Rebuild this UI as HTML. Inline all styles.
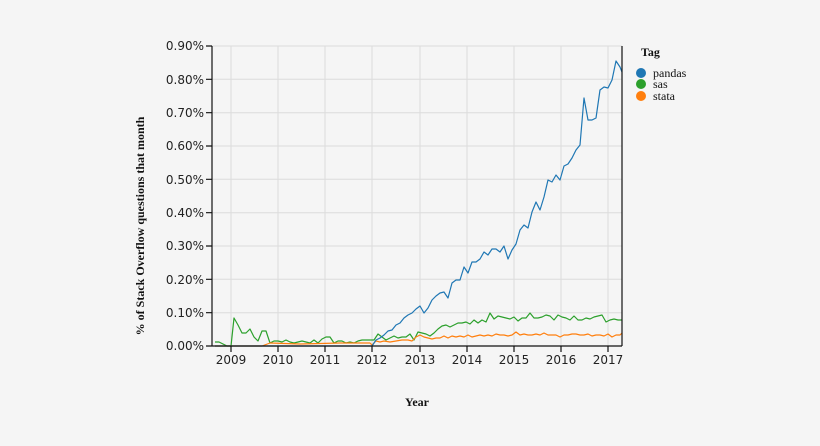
<!DOCTYPE html>
<html><head><meta charset="utf-8"><style>
html,body{margin:0;padding:0;background:#f5f5f5;}
svg{display:block;}
.t{font-family:"DejaVu Sans","Liberation Sans",sans-serif;font-size:12px;fill:#222;}
.s{font-family:"Liberation Serif",serif;fill:#111;}
</style></head><body>
<svg width="820" height="446" xmlns="http://www.w3.org/2000/svg">
<rect width="820" height="446" fill="#f5f5f5"/>
<g stroke="#dcdcdc" stroke-width="1">
<line x1="212" x2="622" y1="46" y2="46"/><line x1="212" x2="622" y1="79.3" y2="79.3"/><line x1="212" x2="622" y1="112.7" y2="112.7"/><line x1="212" x2="622" y1="146" y2="146"/><line x1="212" x2="622" y1="179.3" y2="179.3"/><line x1="212" x2="622" y1="212.7" y2="212.7"/><line x1="212" x2="622" y1="246" y2="246"/><line x1="212" x2="622" y1="279.3" y2="279.3"/><line x1="212" x2="622" y1="312.7" y2="312.7"/>
<line x1="231" x2="231" y1="46" y2="346"/><line x1="278" x2="278" y1="46" y2="346"/><line x1="325" x2="325" y1="46" y2="346"/><line x1="372" x2="372" y1="46" y2="346"/><line x1="420" x2="420" y1="46" y2="346"/><line x1="467" x2="467" y1="46" y2="346"/><line x1="514" x2="514" y1="46" y2="346"/><line x1="561" x2="561" y1="46" y2="346"/><line x1="608" x2="608" y1="46" y2="346"/>
</g>
<g fill="none" stroke-width="1.2" stroke-linejoin="round">
<polyline stroke="#2ca02c" points="215,342 219,342 223,344 227,346 231,346 234,318 238,325 242,333 246,333 250,329 254,337 258,341 262,331 266,331 270,343 274,341 278,341 282,342 286,340 290,342 294,343 298,342 302,341 306,342 310,343 314,340 318,343 322,339 326,337 330,337 334,343 338,341 342,341 346,343 350,342 354,343 358,341 362,340 366,340 370,340 374,340 378,334 382,337 386,340 390,338 394,336 398,338 402,337 406,337 410,334 414,340 418,332 422,333 426,334 430,336 434,333 438,329 442,326 446,325 450,327 454,325 458,323 462,323 466,322 470,324 474,320 478,323 482,320 486,322 490,313 494,319 498,316 502,317 506,318 510,319 514,317 518,321 522,318 526,318 530,313 534,318 538,318 542,317 546,315 550,316 554,320 558,315 562,317 566,318 570,320 574,316 578,320 582,320 586,318 590,319 594,317 598,316 602,315 606,322 610,320 614,319 618,320 622,320"/>
<polyline stroke="#ff7f0e" points="215,346 262,346 270,343 300,344 340,343 370,343 372,345 376,341 380,342 384,341 390,342 396,341 402,340 408,340 412,341 416,337 420,335 424,337 428,338 432,339 436,338 440,338 444,336 448,338 452,336 456,337 460,336 464,337 468,335 472,337 476,336 480,335 484,336 488,335 492,336 496,334 500,335 504,335 508,336 512,335 516,332 520,335 524,334 528,335 532,335 536,334 540,335 544,333 548,335 552,335 556,335 560,337 564,335 568,335 572,334 576,334 580,335 584,335 588,334 592,336 596,335 600,335 604,336 608,334 612,337 616,335 620,335 622,333"/>
<polyline stroke="#1f77b4" points="215,346 372,346 376,340 380,338 384,335 388,331 392,330 396,325 400,323 404,318 408,315 412,313 416,309 420,306 424,313 428,308 432,300 436,296 440,293 444,292 448,298 452,283 456,280 460,280 464,267 468,273 472,262 476,262 480,259 484,252 488,255 492,249 496,249 500,252 504,246 508,259 512,250 516,244 520,230 524,225 528,228 532,212 536,202 540,210 544,197 548,180 552,182 556,175 560,180 564,166 568,164 572,158 576,150 580,145 584,98 588,120 592,120 596,118 600,90 604,87 608,88 612,80 616,61 620,67 622,72"/>
</g>
<g stroke="#111" stroke-width="1.2" fill="none">
<line x1="212" x2="212" y1="46" y2="346"/><line x1="622" x2="622" y1="46" y2="346"/><line x1="212" x2="622" y1="346" y2="346"/>
<path d="M206,46H212M206,79.3H212M206,112.7H212M206,146H212M206,179.3H212M206,212.7H212M206,246H212M206,279.3H212M206,312.7H212M206,346H212"/>
<path d="M231,346V352M278,346V352M325,346V352M372,346V352M420,346V352M467,346V352M514,346V352M561,346V352M608,346V352"/>
</g>
<g class="t" text-anchor="end">
<text x="204" y="50">0.90%</text><text x="204" y="84">0.80%</text><text x="204" y="117">0.70%</text><text x="204" y="150">0.60%</text><text x="204" y="184">0.50%</text><text x="204" y="217">0.40%</text><text x="204" y="250">0.30%</text><text x="204" y="284">0.20%</text><text x="204" y="317">0.10%</text><text x="204" y="350">0.00%</text>
</g>
<g class="t" text-anchor="middle">
<text x="231" y="364">2009</text><text x="278" y="364">2010</text><text x="325" y="364">2011</text><text x="372" y="364">2012</text><text x="420" y="364">2013</text><text x="467" y="364">2014</text><text x="514" y="364">2015</text><text x="561" y="364">2016</text><text x="608" y="364">2017</text>
</g>
<text class="s" x="417" y="406" text-anchor="middle" font-weight="bold" font-size="12">Year</text>
<text class="s" transform="translate(144,226) rotate(-90)" text-anchor="middle" font-weight="bold" font-size="12">% of Stack Overflow questions that month</text>
<text class="s" x="641" y="56" font-weight="bold" font-size="12">Tag</text>
<circle cx="641" cy="73" r="5" fill="#1f77b4"/><circle cx="641" cy="84" r="5" fill="#2ca02c"/><circle cx="641" cy="96" r="5" fill="#ff7f0e"/>
<g class="s" font-size="12"><text x="653" y="77">pandas</text><text x="653" y="88">sas</text><text x="653" y="100">stata</text></g>
</svg>
</body></html>
